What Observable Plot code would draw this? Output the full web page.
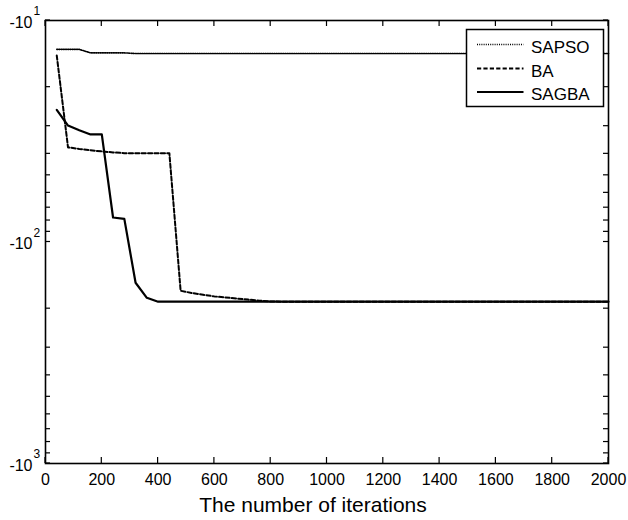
<!DOCTYPE html>
<html><head><meta charset="utf-8">
<script src="https://cdn.jsdelivr.net/npm/d3@7"></script>
<script src="https://cdn.jsdelivr.net/npm/@observablehq/plot@0.6"></script>
<style>
body{margin:0;background:#fff}
svg{font-family:"Liberation Sans",Arial,Helvetica,sans-serif}
</style>
</head><body><div id="chart"></div>
<script>
// Data (iterations vs. objective value)
const iterSAPSO = [40, 120, 160, 280, 320, 2000];
const valSAPSO  = [-13.5, -13.5, -14.0, -14.0, -14.1, -14.1];

const iterBA = [40, 80, 120, 160, 200, 240, 280, 320, 360, 400, 440, 480, 520, 560, 600, 640, 680, 720, 760, 800, 840, 2000];
const valBA  = [-14.4, -37.4, -38.0, -38.5, -39.0, -39.4, -39.7, -39.7, -39.7, -39.7, -39.7, -166, -170, -173, -176, -178, -180, -182, -184, -185.5, -186, -186];

const iterSAGBA = [40, 80, 120, 160, 200, 240, 280, 320, 360, 400, 2000];
const valSAGBA  = [-25.3, -29.8, -31.3, -32.7, -32.7, -77.5, -78.6, -152.8, -178.6, -186, -186];

const seriesNames = ["SAPSO", "BA", "SAGBA"];
const xTicks = [0, 200, 400, 600, 800, 1000, 1200, 1400, 1600, 1800, 2000];
const yMajor = [-10, -100, -1000];
const yMinor = [-20, -30, -40, -50, -60, -70, -80, -90, -200, -300, -400, -500, -600, -700, -800, -900];
const xLabel = "The number of iterations";

const styles = {
  SAPSO: {strokeWidth: 1.6, strokeDasharray: "1,1.2"},
  BA:    {strokeWidth: 2, strokeDasharray: "4.2,2.2"},
  SAGBA: {strokeWidth: 2.2, strokeDasharray: null}
};

const rows = (name, xs, ys) => xs.map((x, i) => ({series: name, iter: x, value: ys[i]}));
const dSAPSO = rows("SAPSO", iterSAPSO, valSAPSO);
const dBA = rows("BA", iterBA, valBA);
const dSAGBA = rows("SAGBA", iterSAGBA, valSAGBA);
const yAll = yMajor.concat(yMinor);

const plot = Plot.plot({
  width: 628, height: 520,
  marginLeft: 45, marginRight: 20, marginTop: 20, marginBottom: 57,
  x: {domain: [0, 2000], axis: null},
  y: {type: "log", domain: [-1000, -10], axis: null},
  style: {fontFamily: '"Liberation Sans", Arial, sans-serif', fontSize: "16px", color: "black", background: "white"},
  marks: [
    Plot.line(dSAPSO, {x: "iter", y: "value", stroke: "black", ...styles.SAPSO}),
    Plot.line(dBA, {x: "iter", y: "value", stroke: "black", ...styles.BA}),
    Plot.line(dSAGBA, {x: "iter", y: "value", stroke: "black", ...styles.SAGBA}),
    Plot.axisX(xTicks, {anchor: "bottom", tickSize: 0, tickPadding: 10, label: null, fontSize: 16, fill: "black", tickFormat: d => String(d)}),
    Plot.axisY(yMajor, {anchor: "left", tickSize: 0, tickPadding: 13, dy: 2, label: null, fontSize: 16, fill: "black", tickFormat: () => "-10"}),
    Plot.text(yMajor, {y: d => d, frameAnchor: "left", text: d => String(Math.round(Math.log10(-d))), dx: -12, dy: -9, textAnchor: "start", fontSize: 12, fill: "black"}),
    Plot.text([xLabel], {frameAnchor: "bottom", text: d => d, dy: 42, dx: -14, fontSize: 21, lineAnchor: "middle", fill: "black"}),
    Plot.frame({stroke: "black", strokeWidth: 1.6})
  ]
});

document.getElementById("chart").appendChild(plot);

// Inward ticks on all four sides, positioned through Plot's own scales
const sx = plot.scale("x"), sy = plot.scale("y");
const [x0, x1] = sx.range, [y0, y1] = sy.range; // y0 bottom, y1 top
const svg = d3.select(plot);
const tg = svg.append("g").attr("stroke", "black").attr("stroke-width", 1.2);
xTicks.forEach(v => {
  const X = sx.apply(v);
  tg.append("line").attr("x1", X).attr("x2", X).attr("y1", y0).attr("y2", y0 - 6);
  tg.append("line").attr("x1", X).attr("x2", X).attr("y1", y1).attr("y2", y1 + 6);
});
yAll.forEach(v => {
  const Y = sy.apply(v);
  tg.append("line").attr("x1", x0).attr("x2", x0 + 5).attr("y1", Y).attr("y2", Y);
  tg.append("line").attr("x1", x1).attr("x2", x1 - 5).attr("y1", Y).attr("y2", Y);
});

// Legend (inside the plot area, upper right)
const lg = svg.append("g").attr("text-anchor", "start");
lg.append("rect").attr("x", 466.5).attr("y", 29.5).attr("width", 137).attr("height", 77)
  .attr("fill", "white").attr("stroke", "black").attr("stroke-width", 1.5);
const lineYs = [44.5, 68.5, 92];
seriesNames.forEach((name, i) => {
  const s = styles[name];
  lg.append("line").attr("x1", 477).attr("x2", 523.5).attr("y1", lineYs[i]).attr("y2", lineYs[i])
    .attr("stroke", "black").attr("stroke-width", s.strokeWidth)
    .attr("stroke-dasharray", s.strokeDasharray);
  lg.append("text").attr("x", 531).attr("y", lineYs[i] + 8).attr("text-anchor", "start")
    .attr("font-size", 17).attr("fill", "black").text(name);
});
</script>
</body></html>
